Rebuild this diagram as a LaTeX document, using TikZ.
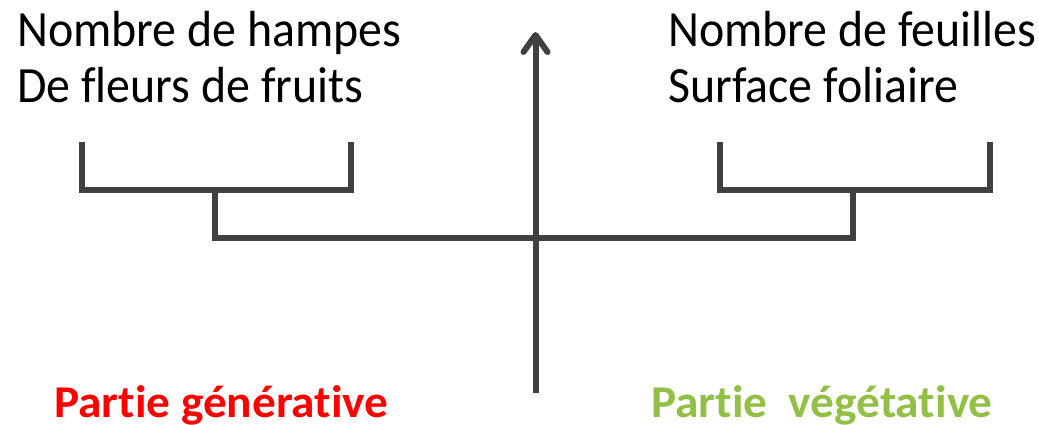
\documentclass[tikz,border=0pt]{standalone}
\usepackage{fontspec}
\setmainfont[Ligatures=NoCommon]{Carlito}
\usetikzlibrary{arrows.meta}
\definecolor{linegray}{HTML}{404040}
\definecolor{genred}{HTML}{FF0000}
\definecolor{veggreen}{HTML}{92C047}
\newcommand{\topscale}[1]{\scalebox{1}[1.06]{#1}}
\newcommand{\botscale}[1]{\scalebox{1.04}[1]{#1}}
\tikzset{
  lbl/.style={inner sep=0pt, anchor=base west, font=\fontsize{47.9}{56}\selectfont},
  part/.style={inner sep=0pt, anchor=base west, font=\fontsize{45.5}{50}\selectfont\bfseries},
  bracket/.style={draw=linegray, line width=6pt, line join=miter},
}
\begin{document}
\begin{tikzpicture}[x=1pt,y=-1pt]
\useasboundingbox (0,0) rectangle (1039,425);
% texts
\node[lbl] (t1) at (17,47) {\topscale{Nombre de hampes}};
\node[lbl] (t2) at (17,103) {\topscale{De fleurs de fruits}};
\node[lbl] (t3) at (668,47) {\topscale{Nombre de feuilles}};
\node[lbl] (t4) at (668,103) {\topscale{Surface foliaire}};
\node[part, text=genred] (pg) at (54,417.5) {\botscale{Partie générative}};
\node[part, text=veggreen] (pv) at (651,417.5) {\botscale{Partie\ \ végétative}};
% coordinates
\coordinate (la) at (81.5,142);
\coordinate (lb) at (81.5,189.5);
\coordinate (lc) at (350.5,189.5);
\coordinate (ld) at (350.5,142);
\coordinate (ls) at (215,189.5);
\coordinate (lm) at (215,238);
\coordinate (rm) at (853,238);
\coordinate (rs) at (853,189.5);
\coordinate (ra) at (720,142);
\coordinate (rb) at (720,189.5);
\coordinate (rc) at (989.5,189.5);
\coordinate (rd) at (989.5,142);
\coordinate (ab) at (535.5,393);
\coordinate (at) at (535.5,32);
% brackets
\draw[bracket] (la) -- (lb) -- (lc) -- (ld);
\draw[bracket] (ra) -- (rb) -- (rc) -- (rd);
\draw[bracket] (ls) -- (lm) -- (rm) -- (rs);
% axis arrow
\draw[bracket, -{Straight Barb[length=17pt,width=24pt,line cap=round, line join=round]}] (ab) -- (at);
\end{tikzpicture}
\end{document}
